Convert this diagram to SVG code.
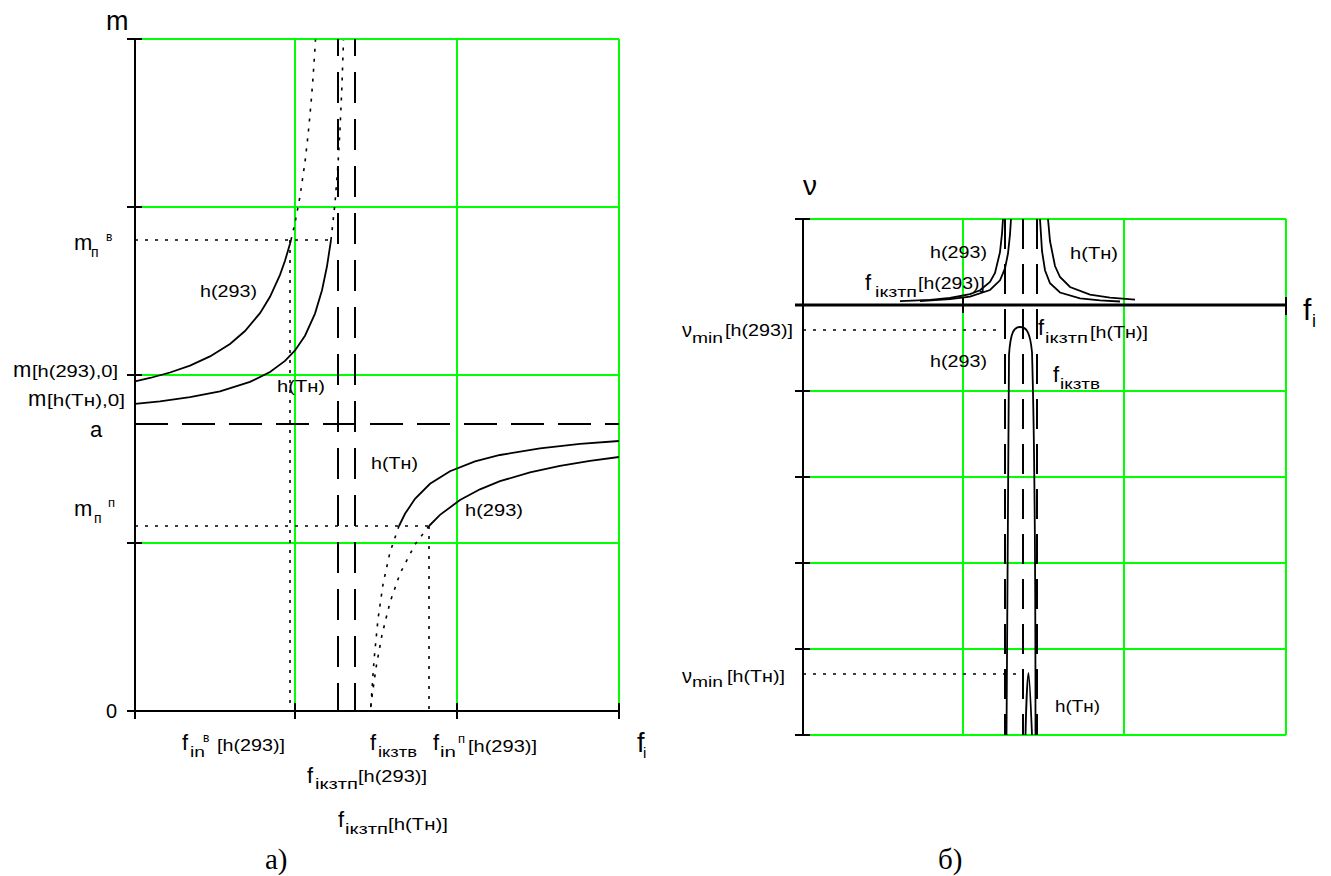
<svg xmlns="http://www.w3.org/2000/svg" width="1331" height="876" viewBox="0 0 1331 876">
<style>
.grid{stroke:#00ff00;stroke-width:2;fill:none}
.axis{stroke:#000;stroke-width:2;fill:none}
.axisb{stroke:#000;stroke-width:3;fill:none}
.curve{stroke:#000;stroke-width:1.8;fill:none}
.dot{stroke:#000;stroke-width:1.6;stroke-dasharray:3 7;fill:none}
.dashh{stroke:#000;stroke-width:2;stroke-dasharray:33 14;fill:none}
.dashv{stroke:#000;stroke-width:2;stroke-dasharray:31 16;stroke-dashoffset:14;fill:none}
.dashr{stroke:#000;stroke-width:2;stroke-dasharray:30 15;fill:none}
text{font-family:"Liberation Sans",Arial,sans-serif;fill:#000}
.L{font-size:22px}
.S{font-size:14px}
.P{font-size:12px}
.B{font-size:17px}
.cap{font-family:"Liberation Serif","Times New Roman",serif;font-size:29px}
</style>

<g id="chart-a">
  <g id="a-grid">
    <path class="grid" d="M142 39H619M142 207H619M142 375H619M142 543H619M295 39V703M457 39V703M619 39V703"/>
  </g>
  <g id="a-axes">
    <path class="axis" d="M135 39V711M127 711H619M127 39H142M127 207H142M127 375H142M127 543H142M135 703V719M295 703V719M457 703V719M619 703V719"/>
  </g>
  <g id="a-asymptotes">
    <path class="dashh" d="M135 424H619"/>
    <path class="dashv" d="M338 39V711M355 39V711"/>
  </g>
  <g id="a-guides">
    <path class="dot" d="M135 240H331M135 526H429M290 240V711M429 526V711"/>
  </g>
  <g id="a-curves">
    <path class="curve" d="M135 381.4L150 378L170 372.5L190 365.6L210 356.4L230 343.9L245 331L260 313.1L270 296.8L280 274.9L285 260.8L290 243.8L291 240"/>
    <path class="dot" d="M291 240L295 222.9L300 196.4L305 162L308 135.7L311 103.7L313 78.1L315 48L315.5 39.6"/>
    <path class="curve" d="M135 403.9L160 401.4L190 397.2L220 391.3L250 381.9L270 372L285 360.9L295 350.4L305 335.7L315 313.6L322 290.2L327 266.3L331 240"/>
    <path class="dot" d="M331 240L335 203.2L338 164.2L340 129.6L342 84.3L343.5 40"/>
    <path class="curve" d="M399 526L405 513.8L415 498.8L430 483.8L450 471.2L475 461.4L500 455L540 448.3L580 443.9L619 441"/>
    <path class="dot" d="M399 526L390 552.2L383 584.3L378 619.1L374 660.2L371 704.5L370.6 711"/>
    <path class="curve" d="M429 526L440 514.9L460 500L480 489.3L500 481.2L530 472.3L560 465.8L590 460.8L619 457"/>
    <path class="dot" d="M429 526L415 544.4L400 573.6L390 602.3L382 634.8L376 668L372 696.7L370.3 711"/>
  </g>
  <g id="a-labels">
    <text class="L" x="106" y="30" style="font-size:27px">m</text>
    <text><tspan class="L" x="74" y="250">m</tspan><tspan class="S" x="91" y="257">п</tspan><tspan class="P" x="106" y="241">в</tspan></text>
    <text><tspan class="L" x="13" y="377">m</tspan><tspan class="B" x="32" y="377" textLength="86" lengthAdjust="spacingAndGlyphs">[h(293),0]</tspan></text>
    <text><tspan class="L" x="28" y="406">m</tspan><tspan class="B" x="47" y="406" textLength="78" lengthAdjust="spacingAndGlyphs">[h(Tн),0]</tspan></text>
    <text class="L" x="90" y="437">a</text>
    <text><tspan class="L" x="74" y="516">m</tspan><tspan class="S" x="94" y="523">п</tspan><tspan class="S" x="108" y="507" style="font-size:13px">п</tspan></text>
    <text class="L" x="106" y="718" style="font-size:20px">0</text>
    <text class="B" x="200" y="297" textLength="57" lengthAdjust="spacingAndGlyphs">h(293)</text>
    <text class="B" x="277" y="392" textLength="48" lengthAdjust="spacingAndGlyphs">h(Tн)</text>
    <text class="B" x="371" y="469" textLength="47" lengthAdjust="spacingAndGlyphs">h(Tн)</text>
    <text class="B" x="465" y="516" textLength="58" lengthAdjust="spacingAndGlyphs">h(293)</text>
    <text><tspan class="L" x="182" y="750">f</tspan><tspan class="S" x="190" y="757" textLength="15" lengthAdjust="spacingAndGlyphs">in</tspan><tspan class="P" x="203" y="742">в</tspan><tspan class="B" x="217" y="751" textLength="68" lengthAdjust="spacingAndGlyphs">[h(293)]</tspan></text>
    <text><tspan class="L" x="307" y="783">f</tspan><tspan class="S" x="315" y="789" textLength="43" lengthAdjust="spacingAndGlyphs">iкзтп</tspan><tspan class="B" x="358" y="782" textLength="69" lengthAdjust="spacingAndGlyphs">[h(293)]</tspan></text>
    <text><tspan class="L" x="370" y="750">f</tspan><tspan class="S" x="378" y="757" textLength="39" lengthAdjust="spacingAndGlyphs">iкзтв</tspan></text>
    <text><tspan class="L" x="433" y="750">f</tspan><tspan class="S" x="440" y="757" textLength="16" lengthAdjust="spacingAndGlyphs">in</tspan><tspan class="S" x="458" y="743" style="font-size:13px">п</tspan><tspan class="B" x="468" y="752" textLength="69" lengthAdjust="spacingAndGlyphs">[h(293)]</tspan></text>
    <text><tspan class="L" x="637" y="752" style="font-size:27px">f</tspan><tspan class="S" x="643" y="758" style="font-size:15px">i</tspan></text>
    <text><tspan class="L" x="338" y="827">f</tspan><tspan class="S" x="345" y="834" textLength="43" lengthAdjust="spacingAndGlyphs">iкзтп</tspan><tspan class="B" x="388" y="830" textLength="60" lengthAdjust="spacingAndGlyphs">[h(Tн)]</tspan></text>
    <text class="cap" x="265" y="869">а)</text>
  </g>
</g>

<g id="chart-b">
  <g id="b-grid">
    <path class="grid" d="M810 219H1286M810 391H1286M810 477H1286M810 563H1286M810 649H1286M810 735H1286M963 219V735M1124 219V735M1286 219V735"/>
  </g>
  <g id="b-axes">
    <path class="axis" d="M803 219V735M795 219H810M795 391H810M795 477H810M795 563H810M795 649H810M795 735H810M963 297V313M1286 297V315"/>
    <path class="axisb" d="M795 305H1286"/>
  </g>
  <g id="b-asymptotes">
    <path class="dashr" d="M1005 219V735M1023 219V735M1037 219V735"/>
  </g>
  <g id="b-guides">
    <path class="dot" d="M803 330H1003M803 674H1023"/>
  </g>
  <g id="b-curves">
    <path class="curve" d="M900 301.2L930 299.8L950 298L970 294.2L980 290.3L990 282L995 273L1000 252.1L1002 233.6L1003 219"/>
    <path class="curve" d="M920 301L950 299.2L970 296.6L990 290L1000 280.3L1005 268.4L1008 253.5L1010 234.4L1011 219"/>
    <path class="curve" d="M1040 219L1042 251L1045 270.2L1050 283.2L1060 292.5L1080 298.3L1100 300.4L1120 301.5"/>
    <path class="curve" d="M1048 219L1050 241L1055 266L1060 277L1070 287L1090 294.6L1110 297.6L1135 299.6"/>
    <path class="curve" d="M1006.5 735C1006.5 560 1007.5 420 1009 355C1010.5 332 1014 327 1020 327C1026 327 1030 331 1032 352C1034 420 1035.5 560 1035.5 735"/>
    <path class="curve" d="M1025.5 735C1026 710 1027.5 673 1028.5 673C1029.5 673 1031 710 1032 735"/>
  </g>
  <g id="b-labels">
    <text class="L" x="803" y="195" style="font-size:28px">ν</text>
    <text class="B" x="930" y="258" textLength="57" lengthAdjust="spacingAndGlyphs">h(293)</text>
    <text><tspan class="L" x="865" y="290">f</tspan><tspan class="S" x="875" y="297" textLength="42" lengthAdjust="spacingAndGlyphs">iкзтп</tspan><tspan class="B" x="918" y="289" textLength="67" lengthAdjust="spacingAndGlyphs">[h(293)]</tspan></text>
    <text><tspan class="L" x="682" y="337" style="font-size:20px">ν</tspan><tspan class="S" x="692" y="343" textLength="31" lengthAdjust="spacingAndGlyphs">min</tspan><tspan class="B" x="725" y="336" textLength="68" lengthAdjust="spacingAndGlyphs">[h(293)]</tspan></text>
    <text class="B" x="930" y="367" textLength="57" lengthAdjust="spacingAndGlyphs">h(293)</text>
    <text class="B" x="1070" y="259" textLength="48" lengthAdjust="spacingAndGlyphs">h(Tн)</text>
    <text><tspan class="L" x="1038" y="335">f</tspan><tspan class="S" x="1045" y="343" textLength="43" lengthAdjust="spacingAndGlyphs">iкзтп</tspan><tspan class="B" x="1090" y="338" textLength="58" lengthAdjust="spacingAndGlyphs">[h(Tн)]</tspan></text>
    <text><tspan class="L" x="1053" y="382">f</tspan><tspan class="S" x="1060" y="389" textLength="40" lengthAdjust="spacingAndGlyphs">iкзтв</tspan></text>
    <text><tspan class="L" x="1303" y="320" style="font-size:30px">f</tspan><tspan class="S" x="1312" y="327" style="font-size:18px">i</tspan></text>
    <text><tspan class="L" x="682" y="683" style="font-size:20px">ν</tspan><tspan class="S" x="692" y="687" textLength="31" lengthAdjust="spacingAndGlyphs">min</tspan><tspan class="B" x="727" y="682" textLength="58" lengthAdjust="spacingAndGlyphs">[h(Tн)]</tspan></text>
    <text class="B" x="1055" y="712" textLength="45" lengthAdjust="spacingAndGlyphs">h(Tн)</text>
    <text class="cap" x="938" y="869">б)</text>
  </g>
</g>
</svg>
